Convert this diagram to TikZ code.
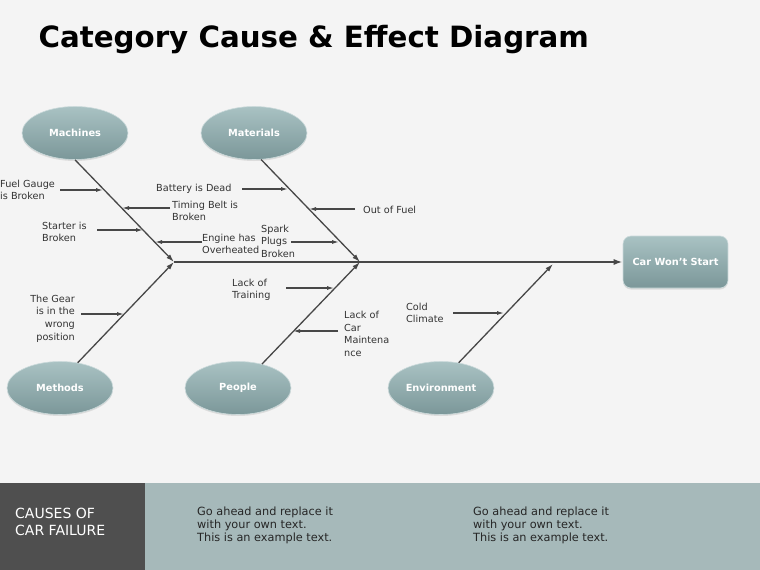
\documentclass[tikz,border=0pt]{standalone}
\usepackage{fontspec}
\setmainfont{DejaVu Sans}
\usetikzlibrary{arrows.meta,shapes.geometric,shadows}
\definecolor{paper}{HTML}{F4F4F4}
\definecolor{bone}{HTML}{474747}
\definecolor{tealtop}{HTML}{A9C2C3}
\definecolor{tealmid}{HTML}{97B1B2}
\definecolor{tealbot}{HTML}{7B9799}
\definecolor{bandteal}{HTML}{A6B9BA}
\definecolor{banddark}{HTML}{4F4F4F}
\definecolor{labelgray}{HTML}{333333}
\begin{document}
\begin{tikzpicture}[x=1pt, y=-1pt,
    category/.style={ellipse, minimum width=106, minimum height=53, inner sep=0,
      top color=tealtop, middle color=tealmid, bottom color=tealbot,
      draw=tealtop!60!white, line width=0.6,
      drop shadow={opacity=0.2, shadow xshift=0pt, shadow yshift=-1.5pt},
      text=white, font=\bfseries\fontsize{9.8}{12}\selectfont},
    effect/.style={rectangle, rounded corners=8, minimum width=105, minimum height=52,
      inner sep=0, top color=tealtop, middle color=tealmid, bottom color=tealbot,
      draw=tealtop!60!white, line width=0.6,
      drop shadow={opacity=0.2, shadow xshift=0pt, shadow yshift=-1.5pt},
      text=white, font=\bfseries\fontsize{9.8}{12}\selectfont},
    cause/.style={inner sep=0, align=left, text=labelgray,
      font=\fontsize{9.7}{12.6}\selectfont},
    spine/.style={bone, line width=2.2, -{Latex[length=9,width=6]}},
    rib/.style={bone, line width=1.3, -{Latex[length=8,width=5]}},
    twig/.style={bone, line width=1.2, -{Latex[length=7,width=4]}}]
  % page and footer band
  \fill[paper] (0,0) rectangle (760,570);
  \fill[bandteal] (0,483) rectangle (760,570);
  \fill[banddark] (0,483) rectangle (145,570);
  \node[anchor=base west, font=\bfseries\fontsize{29.3}{34}\selectfont] (title) at (35,47)
    {Category Cause \& Effect Diagram};
  % categories and effect
  \node[category] (mach) at (75,133) {Machines};
  \node[category] (matl) at (254,133) {Materials};
  \node[category] (meth) at (60,388) {Methods};
  \node[category] (peop) at (238,388) {People};
  \node[category] (envr) at (441,388) {Environment};
  \node[effect] (won) at (675.5,262) {Car Won't Start};
  \coordinate (head) at (174,262);
  \coordinate (mid) at (360,262);
  \coordinate (envtip) at (553,264);
  % spine and ribs
  \draw[spine] (head) -- (won.west);
  \draw[rib] (mach.south) -- (head);
  \draw[rib] (meth.55) -- (head);
  \draw[rib] (matl.-75) -- (mid);
  \draw[rib] (peop.45) -- (mid);
  \draw[rib] (envr.55) -- (envtip);
  % causes
  \node[cause, anchor=west] (fuel) at (0,190) {Fuel Gauge\\is Broken};
  \node[cause, anchor=west] (batt) at (156,189) {Battery is Dead};
  \node[cause, anchor=west] (timing) at (172,211) {Timing Belt is\\Broken};
  \node[cause, anchor=west] (outfuel) at (363,210) {Out of Fuel};
  \node[cause, anchor=west] (starter) at (42,232) {Starter is\\Broken};
  \node[cause, anchor=west] (engine) at (202,244) {Engine has\\Overheated};
  \node[cause, anchor=west] (spark) at (261,241) {Spark\\Plugs\\Broken};
  \node[cause, anchor=east, align=right] (gear) at (75,318.5) {The Gear\\is in the\\wrong\\position};
  \node[cause, anchor=west] (training) at (232,290) {Lack of\\Training};
  \node[cause, anchor=west] (maint) at (344,334) {Lack of\\Car\\Maintena\\nce};
  \node[cause, anchor=west] (cold) at (406,313) {Cold\\Climate};
  \foreach \nm/\xa/\xb/\yy in {fuel/60/103/190, batt/242/288/189, timing/170/122/208,
      outfuel/355/309/209, starter/97/143/230, engine/202/155/242, spark/291/339/242,
      gear/81/124/314, training/286/334/288, maint/338/293/331, cold/453/504/313} {
    \coordinate (\nm-tail) at (\xa,\yy);
    \coordinate (\nm-tip) at (\xb,\yy);
    \draw[twig] (\nm-tail) -- (\nm-tip);
  }
  % footer texts
  \node[anchor=west, align=left, inner sep=0, text=white,
    font=\fontsize{14}{17}\selectfont] (band) at (15,522) {CAUSES OF\\CAR FAILURE};
  \foreach \nm/\xx in {noteA/197, noteB/473}
    \node[anchor=west, align=left, inner sep=0, text=black!85,
      font=\fontsize{11.3}{13}\selectfont] (\nm) at (\xx,525)
      {Go ahead and replace it\\with your own text.\\This is an example text.};
\end{tikzpicture}
\end{document}
